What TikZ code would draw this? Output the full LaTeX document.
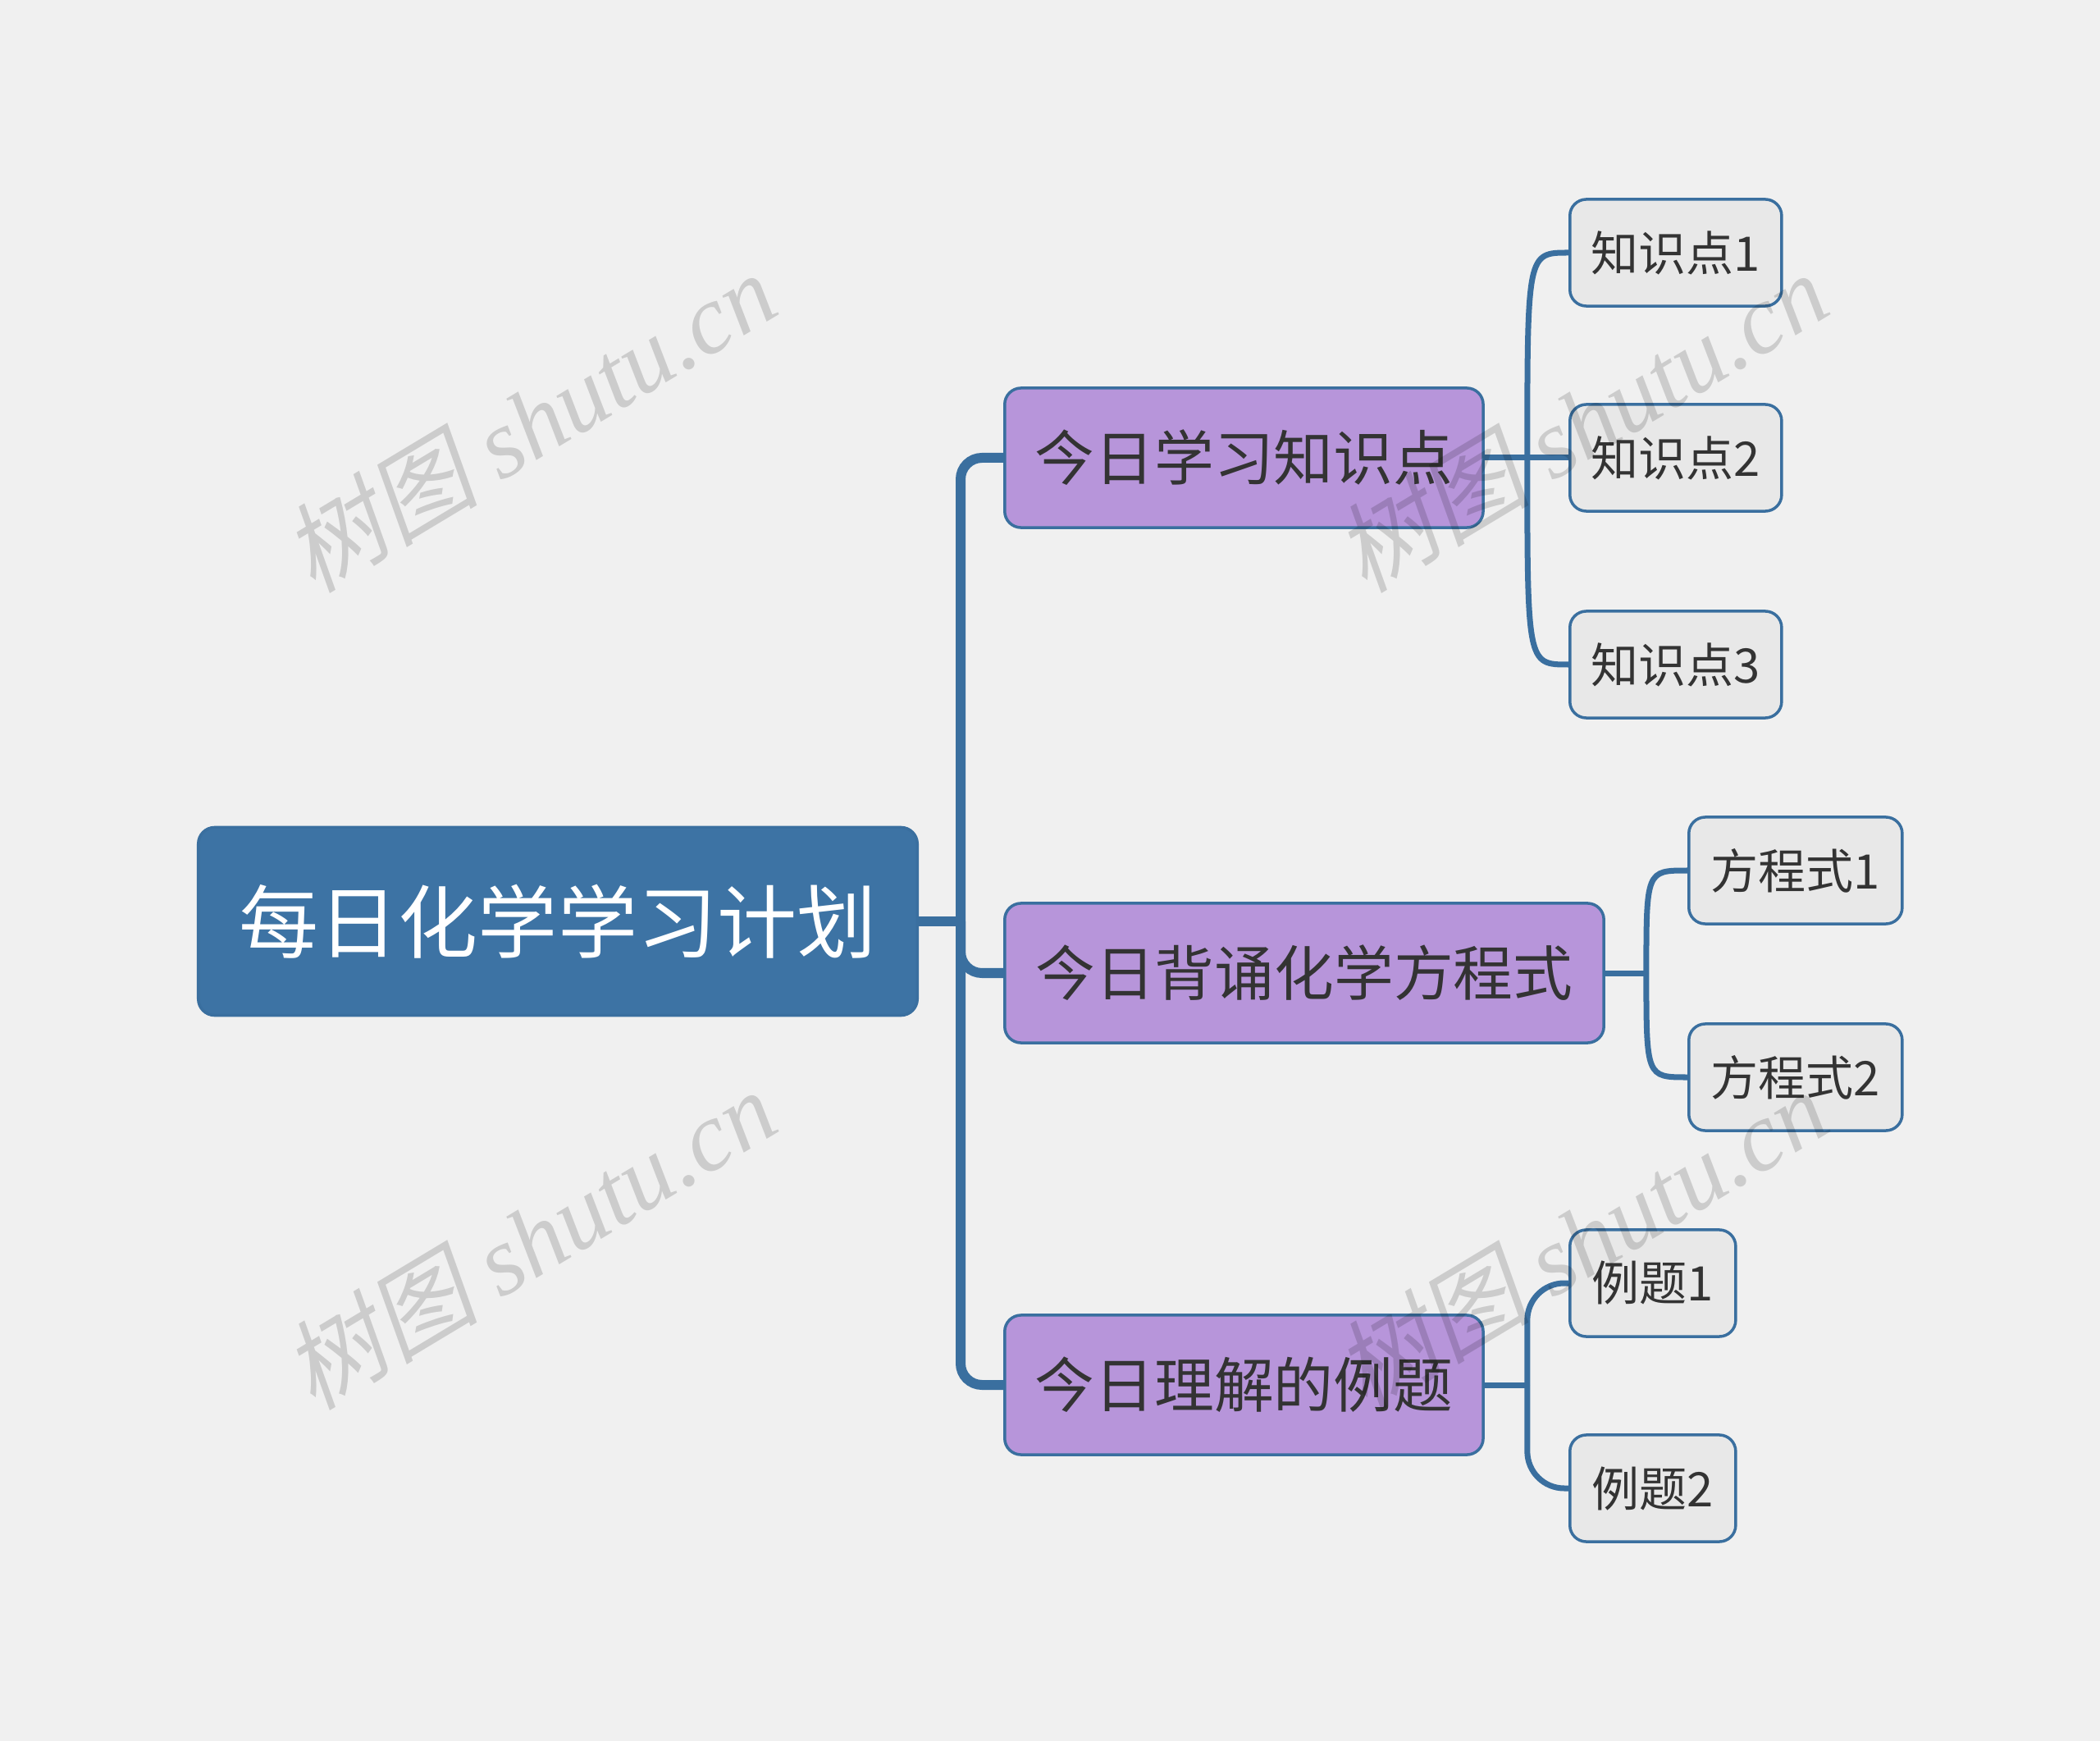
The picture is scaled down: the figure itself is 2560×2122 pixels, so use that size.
\documentclass[tikz,border=0pt]{standalone}
\usepackage{fontspec}
\setmainfont{Noto Sans CJK SC}
\newfontfamily\wmlatin{Liberation Serif}
\newfontfamily\wmcjk[FakeSlant=0.2]{Noto Sans CJK SC}
\usepackage{tikz}
\usetikzlibrary{calc}

\definecolor{bgcol}{HTML}{F0F0F0}
\definecolor{rootblue}{HTML}{3D73A4}
\definecolor{edgeblue}{HTML}{3A6F9F}
\definecolor{lilac}{HTML}{B795DA}
\definecolor{leafgray}{HTML}{E8E8E8}
\definecolor{ink}{HTML}{333333}

\begin{document}
\begin{tikzpicture}[x=0.01cm, y=-0.01cm,
                    rootbox/.style={draw=edgeblue, fill=rootblue, line width=0.035cm,
                      rounded corners=0.2cm, text=white, inner sep=0pt,
                      minimum width=8.76cm, minimum height=2.29cm,
                      font=\fontsize{27.6}{30}\selectfont},
                    topicbox/.style={draw=edgeblue, fill=lilac, line width=0.035cm,
                      rounded corners=0.2cm, text=ink, inner sep=0pt, anchor=west,
                      minimum height=1.7cm, font=\fontsize{20.7}{24}\selectfont},
                    leafbox/.style={draw=edgeblue, fill=leafgray, line width=0.035cm,
                      rounded corners=0.2cm, text=ink, inner sep=0pt, anchor=west,
                      minimum height=1.3cm, font=\fontsize{16.5}{20}\selectfont},
                    trunk/.style={draw=edgeblue, line width=0.12cm, rounded corners=0.26cm},
                    twig/.style={draw=edgeblue, line width=0.07cm},
                    watermark/.style={rotate=31, text=black, text opacity=0.15, inner sep=0pt}]
  \fill[bgcol] (0,0) rectangle (2560,2122);
  \useasboundingbox (0,0) rectangle (2560,2122);

  \node[rootbox] (root) at (680,1123) {每日化学学习计划};

  \node[topicbox, minimum width=5.83cm] (learn) at (1223,558) {今日学习知识点};
  \node[topicbox, minimum width=7.30cm] (recite) at (1223,1186) {今日背诵化学方程式};
  \node[topicbox, minimum width=5.83cm] (examples) at (1223,1688) {今日理解的例题};

  \node[leafbox, minimum width=2.58cm] (k1) at (1912,308) {知识点1};
  \node[leafbox, minimum width=2.58cm] (k2) at (1912,558) {知识点2};
  \node[leafbox, minimum width=2.58cm] (k3) at (1912,810) {知识点3};
  \node[leafbox, minimum width=2.60cm] (eq1) at (2057,1061) {方程式1};
  \node[leafbox, minimum width=2.60cm] (eq2) at (2057,1313) {方程式2};
  \node[leafbox, minimum width=2.02cm] (ex1) at (1912,1564) {例题1};
  \node[leafbox, minimum width=2.02cm] (ex2) at (1912,1814) {例题2};

  % main branches
  \coordinate (hub) at ($(root.east)+(51,0)$);
  \draw[trunk] (root.east) -- (hub);
  \draw[trunk] (hub) |- (learn.west);
  \draw[trunk] (hub) |- (recite.west);
  \draw[trunk] (hub) |- (examples.west);

  % sub branches
  \coordinate (learnhub) at ($(learn.east)+(52,0)$);
  \draw[twig] (learn.east) -- (k2.west);
  \draw[twig] (learnhub) .. controls (learnhub |- k1.west) .. (k1.west);
  \draw[twig] (learnhub) .. controls (learnhub |- k3.west) .. (k3.west);

  \coordinate (recitehub) at ($(recite.east)+(50,0)$);
  \draw[twig] (recite.east) -- (recitehub);
  \draw[twig] (recitehub) .. controls (recitehub |- eq1.west) .. (eq1.west);
  \draw[twig] (recitehub) .. controls (recitehub |- eq2.west) .. (eq2.west);

  \coordinate (examplehub) at ($(examples.east)+(52,0)$);
  \draw[twig] (examples.east) -- (examplehub);
  \draw[twig, rounded corners=0.45cm] (examplehub) |- (ex1.west);
  \draw[twig, rounded corners=0.45cm] (examplehub) |- (ex2.west);

  % watermarks
  \foreach \wx/\wy [count=\i] in {645/514, 645/1510, 1927/514, 1927/1510}
    \node[watermark] (mark\i) at (\wx,\wy)
      {\fontsize{34}{40}\selectfont\wmcjk 树图 \wmlatin\itshape shutu.cn};
\end{tikzpicture}
\end{document}
